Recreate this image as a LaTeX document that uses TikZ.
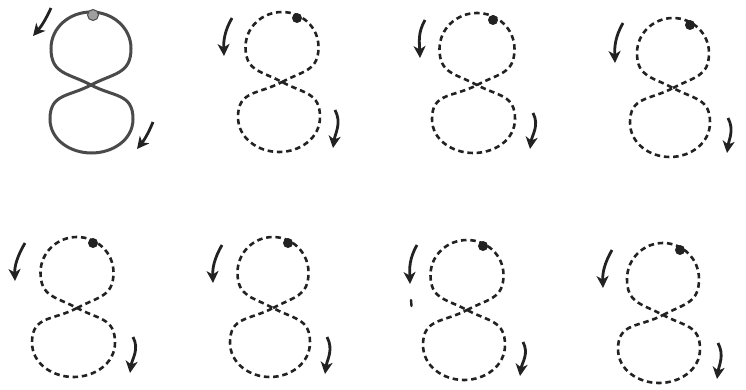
\documentclass[tikz,border=0pt]{standalone}
\usetikzlibrary{arrows.meta}
\definecolor{pen}{HTML}{222222}
\definecolor{solidpen}{HTML}{4A4A4A}
\tikzset{
  dashedeight/.style={draw=pen, line width=2.6pt, dash pattern=on 5.5pt off 3.8pt},
  solideight/.style={draw=solidpen, line width=3pt},
  arr/.style={draw=pen, line width=2.8pt, -{Stealth[length=12pt,width=12pt,inset=3.5pt]}},
  dotmark/.style={fill=pen},
}
\newcommand\figeight[8]{%
  \draw[#8] (#1,{389-#4}) to[out=28,in=-90,looseness=1.22] ({#1+#6},{389-(#3+#4)/2})
    to[out=90,in=0] (#1,{389-#3})
    to[out=180,in=90] ({#1-#6},{389-(#3+#4)/2})
    to[out=-90,in=152,looseness=1.22] (#1,{389-#4})
    to[out=-28,in=90,looseness=1.22] ({#2+#7},{389-(#4+#5)/2})
    to[out=-90,in=0] (#2,{389-#5})
    to[out=180,in=-90] ({#2-#7},{389-(#4+#5)/2})
    to[out=90,in=208,looseness=1.22] (#1,{389-#4});
}
\newcommand\leftarr[4]{\draw[arr] (#1,{389-#2}) to[out=240,in=92] (#3,{389-#4});}
\newcommand\rightarr[4]{\draw[arr] (#1,{389-#2}) to[out=-62,in=82] (#3,{389-#4});}
\newcommand\blackdot[2]{\fill[dotmark] (#1,{389-#2}) circle (5pt);}
\begin{document}
\begin{tikzpicture}[x=1pt,y=1pt]
\useasboundingbox (0,0) rectangle (746,389);
% first (solid) figure
\figeight{91}{91.5}{12}{85}{153}{40}{41.5}{solideight}
\fill[gray!75, draw=solidpen, line width=1pt] (93,{389-15}) circle (5.5pt);
\draw[arr] (51,{389-8}) to[bend left=8] (33,{389-36});
\draw[arr] (153,{389-122}) to[bend left=8] (137,{389-149});
% top row
\figeight{282}{279}{12}{82}{152}{36.5}{41}{dashedeight}
\blackdot{297}{18}
\leftarr{232}{18}{224}{56}
\rightarr{335}{110}{333}{148}
\figeight{477}{473.5}{13}{85}{153}{37.5}{41.5}{dashedeight}
\blackdot{493}{20}
\leftarr{425}{20}{420}{58}
\rightarr{533}{113}{530}{149}
\figeight{673}{670}{18}{88}{157}{36}{40}{dashedeight}
\blackdot{690}{25}
\leftarr{623}{23}{615}{63}
\rightarr{728}{118}{727}{153}
% bottom row
\figeight{77}{73.5}{237}{308}{377}{36.5}{41.5}{dashedeight}
\blackdot{93}{243}
\leftarr{25}{243}{15}{281}
\rightarr{133}{337}{130}{373}
\figeight{273}{270}{237}{308}{377}{35.5}{40}{dashedeight}
\blackdot{288}{243}
\leftarr{222}{245}{213}{283}
\rightarr{327}{337}{325}{374}
\figeight{467}{464}{240}{310}{380}{36.5}{41}{dashedeight}
\blackdot{483}{246}
\leftarr{417}{245}{410}{284}
\rightarr{523}{342}{520}{376}
\draw[pen, line width=2.4pt, line cap=round] (411,{389-300}) -- (411.5,{389-306});
\figeight{663}{659}{243}{315}{383}{36}{41}{dashedeight}
\blackdot{680}{250}
\leftarr{612}{250}{603}{288}
\rightarr{718}{343}{717}{379}
\end{tikzpicture}
\end{document}
